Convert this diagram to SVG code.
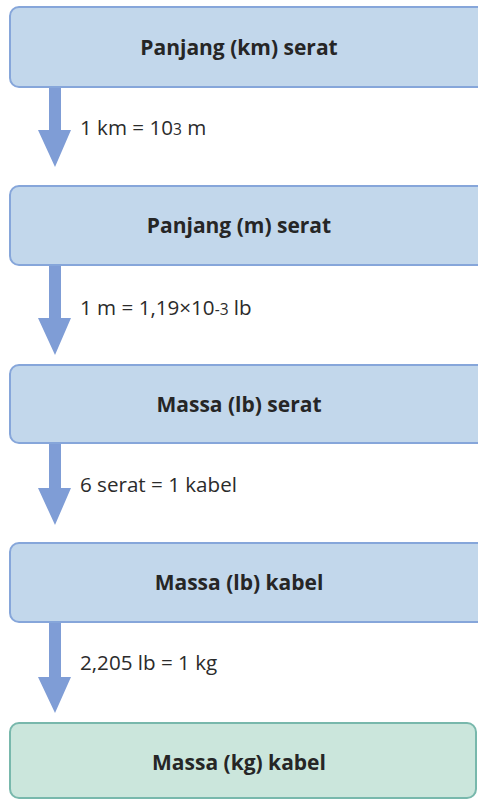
<svg xmlns="http://www.w3.org/2000/svg" width="478" height="799" viewBox="0 0 478 799">
<style>
.box{fill:#c2d7eb;stroke:#86a6da;stroke-width:2}
.green{fill:#cbe6dc;stroke:#78b8ac;stroke-width:2}
.title{font-family:"Open Sans","Noto Sans",sans-serif;font-weight:bold;font-size:21px;fill:#262626;text-anchor:middle}
.lbl{font-family:"Open Sans","Noto Sans",sans-serif;font-size:20.6px;fill:#2b2b2b}
.arr{fill:#7f9dd6}
</style>
<rect width="478" height="799" fill="#ffffff"/>
<g id="connectors">
<path class="arr" d="M49 87 H61 V130 H71 L55 167 L38 130 H49 Z"/>
<path class="arr" d="M49 265 H61 V318 H71 L55 355 L38 318 H49 Z"/>
<path class="arr" d="M49 443 H61 V488 H71 L55 525 L38 488 H49 Z"/>
<path class="arr" d="M49 622 H61 V677 H71 L55 713 L38 677 H49 Z"/>
<text class="lbl" x="80" y="135">1 km = 10<tspan font-size="15.5">3</tspan> m</text>
<text class="lbl" x="80" y="315">1 m = 1,19×10<tspan font-size="15.5">-3</tspan> lb</text>
<text class="lbl" x="80" y="492">6 serat = 1 kabel</text>
<text class="lbl" x="80" y="670">2,205 lb = 1 kg</text>
</g>
<g id="node1"><rect class="box" x="10" y="7" width="476" height="80" rx="9"/><text class="title" x="239" y="55">Panjang (km) serat</text></g>
<g id="node2"><rect class="box" x="10" y="186" width="476" height="79" rx="9"/><text class="title" x="239" y="233">Panjang (m) serat</text></g>
<g id="node3"><rect class="box" x="10" y="365" width="476" height="78" rx="9"/><text class="title" x="239" y="412">Massa (lb) serat</text></g>
<g id="node4"><rect class="box" x="10" y="543" width="476" height="79" rx="9"/><text class="title" x="239" y="590">Massa (lb) kabel</text></g>
<g id="node5"><rect class="green" x="10" y="723" width="466" height="75" rx="9"/><text class="title" x="239" y="770">Massa (kg) kabel</text></g>
</svg>
